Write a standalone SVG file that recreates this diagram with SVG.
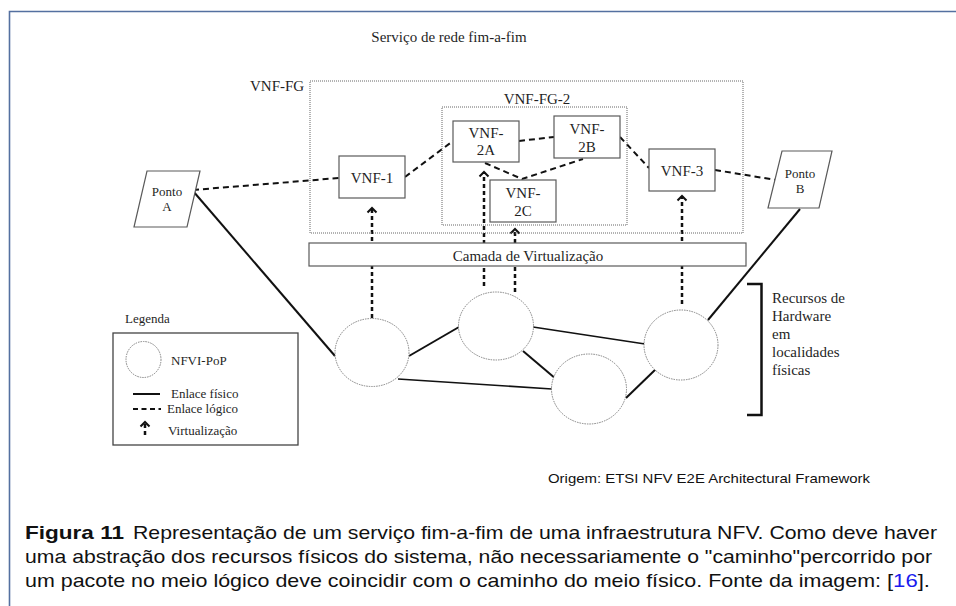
<svg xmlns="http://www.w3.org/2000/svg" width="956" height="606" viewBox="0 0 956 606">
<defs>
<style>
.serif{font-family:"Liberation Serif","Times New Roman",serif;fill:#1f1f1f}
.s15{font-size:15px}
.s13{font-size:13px}
.mid{text-anchor:middle}
.box{fill:#fff;stroke:#5a5a5a;stroke-width:1.2}
.dotbox{fill:none;stroke:#666;stroke-width:1;stroke-dasharray:1 1}
.pop{fill:#fff;stroke:#808080;stroke-width:1;stroke-dasharray:1.5 1}
.phys{stroke:#111;stroke-width:2;fill:none}
.physthin{stroke:#111;stroke-width:1.6;fill:none}
.logic{stroke:#111;stroke-width:2;stroke-dasharray:6 4;fill:none}
.virt{stroke:#111;stroke-width:2.5;stroke-dasharray:4 3;fill:none}
.sans{font-family:"Liberation Sans",Arial,sans-serif;fill:#111}
.cap{font-family:"Liberation Sans",Arial,sans-serif;font-size:19px;fill:#111}
.frame{stroke:#5470a0;stroke-width:1.6;fill:none}
</style>
<marker id="ah" viewBox="-6 -6 12 12" markerWidth="12" markerHeight="12" markerUnits="userSpaceOnUse" orient="auto" refX="0" refY="0">
<path d="M-4.5,-4.5 L0,0 L-4.5,4.5" fill="none" stroke="#111" stroke-width="2" stroke-dasharray="none"/>
</marker>
</defs>
<rect x="0" y="0" width="956" height="606" fill="#fff"/>
<path class="frame" d="M9.5,606 V11.5 H956"/>

<text class="serif s15 mid" x="449" y="42">Serviço de rede fim-a-fim</text>
<text class="serif s15" x="250" y="91">VNF-FG</text>
<text class="serif s15 mid" x="537" y="104">VNF-FG-2</text>

<g id="connectors">
<path class="phys" d="M193,191 L335,356"/>
<path class="phys" d="M800,209 L708,320"/>
<path class="phys" d="M409,356 L459,327"/>
<path class="physthin" d="M398,379 L552,389"/>
<path class="physthin" d="M533,327 L645,344"/>
<path class="phys" d="M523,351 L556,379"/>
<path class="phys" d="M626,398 L657,368"/>
<path class="logic" d="M193,190 L339,178"/>
<path class="logic" d="M405,177 L453,141"/>
<path class="logic" d="M519,141 L554,137"/>
<path class="logic" d="M485,163 L522,179 L583,159"/>
<path class="logic" d="M620,137 L649,168"/>
<path class="logic" d="M715,170 L776,180"/>
<path class="virt" d="M372,318 V208" marker-end="url(#ah)"/>
<path class="virt" d="M484,286 V172" marker-end="url(#ah)"/>
<path class="virt" d="M515,292 V229" marker-end="url(#ah)"/>
<path class="virt" d="M682,304 V196" marker-end="url(#ah)"/>
</g>

<g id="vnf-fg"><rect class="dotbox" x="310" y="81" width="433" height="152"/></g>
<g id="vnf-fg-2"><rect class="dotbox" x="442" y="107" width="185" height="118"/></g>

<g id="camada">
<rect class="box" x="309" y="243" width="437" height="23"/>
<text class="serif s15 mid" x="528" y="261">Camada de Virtualização</text>
</g>

<g id="vnf-1"><rect class="box" x="339" y="156" width="66" height="42"/><text class="serif s15 mid" x="372" y="183">VNF-1</text></g>
<g id="vnf-2a"><rect class="box" x="453" y="121" width="66" height="41"/><text class="serif s15 mid" x="486" y="138">VNF-</text><text class="serif s15 mid" x="486" y="155">2A</text></g>
<g id="vnf-2b"><rect class="box" x="554" y="116" width="66" height="42"/><text class="serif s15 mid" x="587" y="134">VNF-</text><text class="serif s15 mid" x="587" y="152">2B</text></g>
<g id="vnf-2c"><rect class="box" x="490" y="180" width="66" height="42"/><text class="serif s15 mid" x="523" y="198">VNF-</text><text class="serif s15 mid" x="523" y="216">2C</text></g>
<g id="vnf-3"><rect class="box" x="649" y="149" width="66" height="42"/><text class="serif s15 mid" x="682" y="176">VNF-3</text></g>

<g id="ponto-a"><polygon class="box" points="147,171 200,171 187,227 134,227"/><text class="serif s13 mid" x="167" y="196">Ponto</text><text class="serif s13 mid" x="167" y="211">A</text></g>
<g id="ponto-b"><polygon class="box" points="782,151 832,151 819,208 768,208"/><text class="serif s13 mid" x="800" y="178">Ponto</text><text class="serif s13 mid" x="800" y="193">B</text></g>

<g id="pop-1"><ellipse class="pop" cx="372" cy="352.5" rx="37" ry="34"/></g>
<g id="pop-2"><ellipse class="pop" cx="496" cy="326" rx="37.5" ry="34"/></g>
<g id="pop-3"><ellipse class="pop" cx="589" cy="389" rx="37.5" ry="35"/></g>
<g id="pop-4"><ellipse class="pop" cx="681" cy="345" rx="37" ry="35"/></g>

<g id="hardware">
<path d="M747,284 H761.5 V415 H747" fill="none" stroke="#111" stroke-width="2.5"/>
<text class="serif s15" x="772" y="303">Recursos de</text>
<text class="serif s15" x="772" y="321">Hardware</text>
<text class="serif s15" x="772" y="339">em</text>
<text class="serif s15" x="772" y="357">localidades</text>
<text class="serif s15" x="772" y="375">físicas</text>
</g>

<g id="legenda">
<text class="serif s13" x="125" y="323">Legenda</text>
<rect x="113" y="333" width="185" height="112" fill="#fff" stroke="#444" stroke-width="1.3"/>
<ellipse class="pop" cx="143.5" cy="359.5" rx="17.5" ry="18"/>
<text class="serif s13" x="171" y="365">NFVI-PoP</text>
<path class="phys" d="M133,394 H160"/>
<text class="serif s13" x="171" y="398">Enlace físico</text>
<path d="M133,409 H161" stroke="#111" stroke-width="2" stroke-dasharray="5 3.5"/>
<text class="serif s13" x="167" y="413">Enlace lógico</text>
<path class="virt" d="M145,435 V422" stroke-dasharray="3 2.5" marker-end="url(#ah)"/>
<text class="serif s13" x="168" y="435">Virtualização</text>
</g>

<text class="sans" font-size="13" x="548" y="483" textLength="322" lengthAdjust="spacingAndGlyphs">Origem: ETSI NFV E2E Architectural Framework</text>

<g id="caption">
<text class="cap" x="25" y="539" font-weight="bold" textLength="99" lengthAdjust="spacingAndGlyphs">Figura 11</text>
<text class="cap" x="133" y="539" textLength="804" lengthAdjust="spacingAndGlyphs">Representação de um serviço fim-a-fim de uma infraestrutura NFV. Como deve haver</text>
<text class="cap" x="25" y="563" textLength="907" lengthAdjust="spacingAndGlyphs">uma abstração dos recursos físicos do sistema, não necessariamente o "caminho"percorrido por</text>
<text class="cap" x="25" y="587" textLength="856" lengthAdjust="spacingAndGlyphs">um pacote no meio lógico deve coincidir com o caminho do meio físico. Fonte da imagem:</text>
<text class="cap" x="887" y="587" textLength="43" lengthAdjust="spacingAndGlyphs">[<tspan fill="#1a1aee">16</tspan>].</text>
</g>
</svg>
